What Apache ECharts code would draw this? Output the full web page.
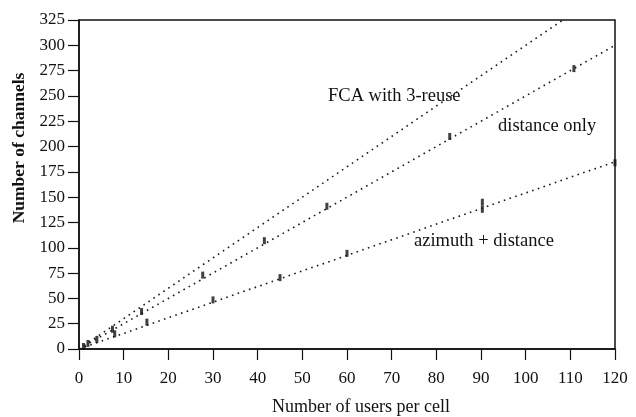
<!DOCTYPE html>
<html>
<head>
<meta charset="utf-8">
<script src="https://cdn.jsdelivr.net/npm/echarts@6/dist/echarts.min.js"></script>
<style>
  html, body { margin: 0; padding: 0; background: #fff; }
  #chart { width: 636px; height: 417px; }
</style>
</head>
<body>
<div id="chart"></div>
<script>
// 数据
var xTicks = [0, 10, 20, 30, 40, 50, 60, 70, 80, 90, 100, 110, 120];
var yTicks = [0, 25, 50, 75, 100, 125, 150, 175, 200, 225, 250, 275, 300, 325];

// dotted reference lines (end points)
var fcaLine = [[0, 0], [120, 360]];
var distLine = [[0, 0], [120, 300]];
var aziLine = [[0, 0], [120, 185]];

// measured points
var distPoints = [[1, 2.5], [2, 5.5], [4, 9.5], [7.5, 19.5], [14, 37], [27.7, 73], [41.5, 107], [55.5, 141], [83, 210], [110.8, 277]];
var aziPoints = [[8, 15], [15.2, 26.5], [30, 48.5], [45, 70.5], [60, 94.5], [90.3, 138], [90.3, 145], [120, 184]];

var myChart = echarts.init(document.getElementById('chart'));

var serif = 'Liberation Serif';
var dotStyle = { color: '#1a1a1a', width: 1.6, type: [1.6, 4.4] };
var markStyle = { color: '#111' };

var option = {
  backgroundColor: '#fff',
  animation: false,
  grid: {
    left: 79, right: 21, top: 20, bottom: 68,
    show: true, borderColor: '#111', borderWidth: 1.5
  },
  xAxis: {
    type: 'value',
    min: 0, max: 120, interval: 10,
    axisLine: { lineStyle: { color: '#111', width: 1.5 } },
    axisTick: { inside: false, length: 11, lineStyle: { color: '#111', width: 1.2 } },
    axisLabel: { fontFamily: serif, fontSize: 17, color: '#111', margin: 21 },
    splitLine: { show: false }
  },
  yAxis: {
    type: 'value',
    min: 0, max: 325, interval: 25,
    axisLine: { lineStyle: { color: '#111', width: 1.5 } },
    axisTick: { inside: false, length: 11, lineStyle: { color: '#111', width: 1.2 } },
    axisLabel: { fontFamily: serif, fontSize: 17, color: '#111', margin: 14 },
    splitLine: { show: false }
  },
  graphic: [
    { type: 'text', x: 361, y: 407, style: { text: 'Number of users per cell', font: '18px "Liberation Serif"', fill: '#111', align: 'center', verticalAlign: 'middle' } },
    { type: 'text', x: 19, y: 148, rotation: Math.PI / 2, style: { text: 'Number of channels', font: 'bold 17.5px "Liberation Serif"', fill: '#111', align: 'center', verticalAlign: 'middle' } },
    { type: 'text', left: 328, top: 87, style: { text: 'FCA with 3-reuse', font: '18.5px "Liberation Serif"', fill: '#111' } },
    { type: 'text', left: 498, top: 117, style: { text: 'distance only', font: '18.5px "Liberation Serif"', fill: '#111' } },
    { type: 'text', left: 414, top: 232, style: { text: 'azimuth + distance', font: '18.5px "Liberation Serif"', fill: '#111' } }
  ],
  series: [
    { name: 'FCA', type: 'line', data: fcaLine, showSymbol: false, lineStyle: dotStyle, clip: true },
    { name: 'distance only', type: 'line', data: distLine, showSymbol: false, lineStyle: dotStyle, clip: true },
    { name: 'azimuth + distance', type: 'line', data: aziLine, showSymbol: false, lineStyle: dotStyle, clip: true },
    { name: 'distance pts', type: 'scatter', data: distPoints, symbol: 'rect', symbolSize: [3, 7], itemStyle: markStyle, clip: false },
    { name: 'azimuth pts', type: 'scatter', data: aziPoints, symbol: 'rect', symbolSize: [3, 7], itemStyle: markStyle, clip: false }
  ]
};

myChart.setOption(option);
</script>
</body>
</html>
